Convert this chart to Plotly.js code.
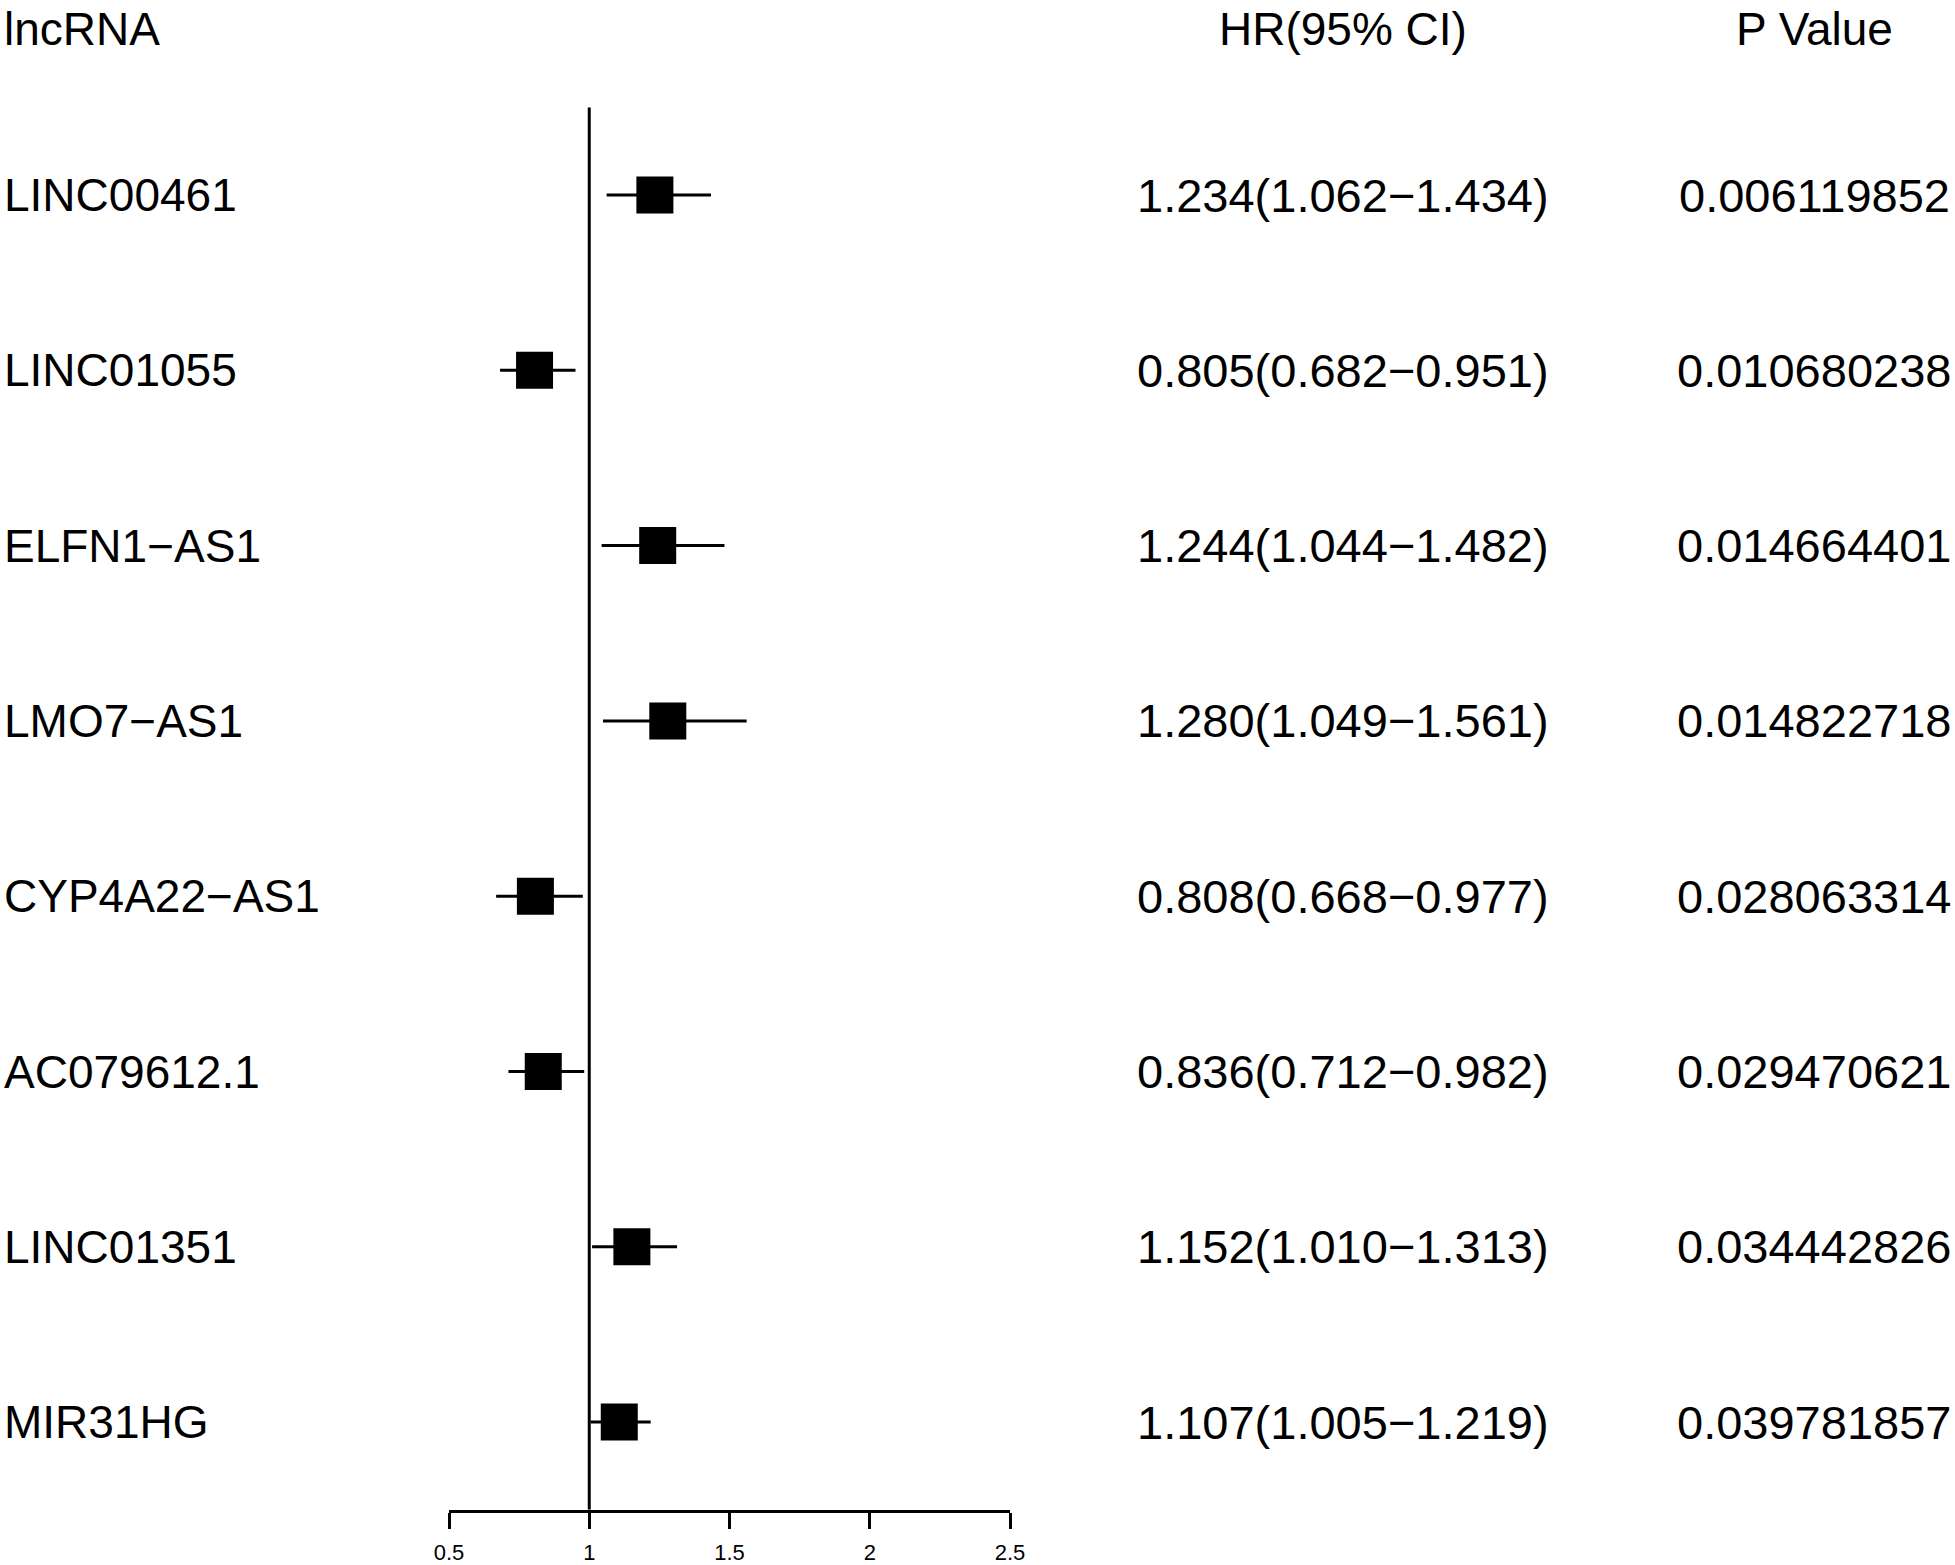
<!DOCTYPE html>
<html>
<head>
<meta charset="utf-8">
<script src="https://cdn.plot.ly/plotly-3.0.1.min.js"></script>
<style>html,body{margin:0;padding:0;background:#fff;}#chart{width:1955px;height:1565px;}</style>
</head>
<body>
<div id="chart"></div>
<script>
// ---- data ----
const genes = ["LINC00461","LINC01055","ELFN1\u2212AS1","LMO7\u2212AS1","CYP4A22\u2212AS1","AC079612.1","LINC01351","MIR31HG"];
const hr = [1.234, 0.805, 1.244, 1.280, 0.808, 0.836, 1.152, 1.107];
const lower = [1.062, 0.682, 1.044, 1.049, 0.668, 0.712, 1.010, 1.005];
const upper = [1.434, 0.951, 1.482, 1.561, 0.977, 0.982, 1.313, 1.219];
const pvals = ["0.006119852","0.010680238","0.014664401","0.014822718","0.028063314","0.029470621","0.034442826","0.039781857"];
const tickVals = [0.5, 1, 1.5, 2, 2.5];
const tickText = ["0.5","1","1.5","2","2.5"];
const refLine = 1;
const headers = {gene: "lncRNA", hr: "HR(95% CI)", p: "P Value"};

// ---- build ----
const W = 1955, H = 1565;
const rows = genes.map((g, i) => i);
const hrText = hr.map((v, i) => v.toFixed(3) + "(" + lower[i].toFixed(3) + "\u2212" + upper[i].toFixed(3) + ")");
const FONT = "Liberation Sans, Arial, sans-serif";
const fs = 46, fsNum = 47;

const traces = [
  {
    type: "scatter", mode: "lines",
    x: [refLine, refLine], y: [-0.5, genes.length - 0.5],
    line: {color: "#000", width: 3},
    hoverinfo: "skip", showlegend: false, cliponaxis: false
  },
  {
    type: "scatter", mode: "markers",
    x: hr, y: rows,
    marker: {symbol: "square", size: 37, color: "#000", line: {width: 0}},
    error_x: {
      type: "data", symmetric: false,
      array: upper.map((u, i) => u - hr[i]),
      arrayminus: lower.map((l, i) => hr[i] - l),
      width: 0, thickness: 3, color: "#000"
    },
    showlegend: false, cliponaxis: false
  }
];

const ann = [];
const colGeneX = 2 / W, colHrX = 1343 / W, colPX = 1814 / W;
const headerY = 1 - 1 / H;
ann.push({xref: "paper", yref: "paper", x: colGeneX, y: headerY, xanchor: "left", yanchor: "top", text: headers.gene, showarrow: false, font: {family: FONT, size: fs, color: "#000"}});
ann.push({xref: "paper", yref: "paper", x: colHrX, y: headerY, xanchor: "center", yanchor: "top", text: headers.hr, showarrow: false, font: {family: FONT, size: fs, color: "#000"}});
ann.push({xref: "paper", yref: "paper", x: colPX, y: headerY, xanchor: "center", yanchor: "top", text: headers.p, showarrow: false, font: {family: FONT, size: fs, color: "#000"}});
genes.forEach((g, i) => {
  ann.push({xref: "paper", yref: "y", x: colGeneX, y: i, xanchor: "left", yanchor: "middle", text: g, showarrow: false, font: {family: FONT, size: fs, color: "#000"}});
  ann.push({xref: "paper", yref: "y", x: colHrX, y: i, xanchor: "center", yanchor: "middle", text: hrText[i], showarrow: false, font: {family: FONT, size: fsNum, color: "#000"}});
  ann.push({xref: "paper", yref: "y", x: colPX, y: i, xanchor: "center", yanchor: "middle", text: pvals[i], showarrow: false, font: {family: FONT, size: fsNum, color: "#000"}});
});

const layout = {
  width: W, height: H,
  margin: {l: 0, r: 0, t: 0, b: 0, pad: 0},
  paper_bgcolor: "#fff", plot_bgcolor: "#fff",
  showlegend: false,
  xaxis: {
    domain: [449 / W, 1010 / W],
    range: [0.5, 2.5],
    showline: true, linecolor: "#000", linewidth: 3,
    ticks: "outside", ticklen: 16, tickwidth: 3, tickcolor: "#000",
    ticklabelstandoff: 5,
    tickvals: tickVals, ticktext: tickText,
    tickfont: {family: FONT, size: 22, color: "#000"},
    showgrid: false, zeroline: false, fixedrange: true
  },
  yaxis: {
    domain: [1 - 1509.75 / H, 1 - 107.35 / H],
    range: [genes.length - 0.5, -0.5],
    visible: false, showgrid: false, zeroline: false, fixedrange: true
  },
  annotations: ann
};

Plotly.newPlot("chart", traces, layout, {displayModeBar: false, staticPlot: true});
</script>
</body>
</html>
